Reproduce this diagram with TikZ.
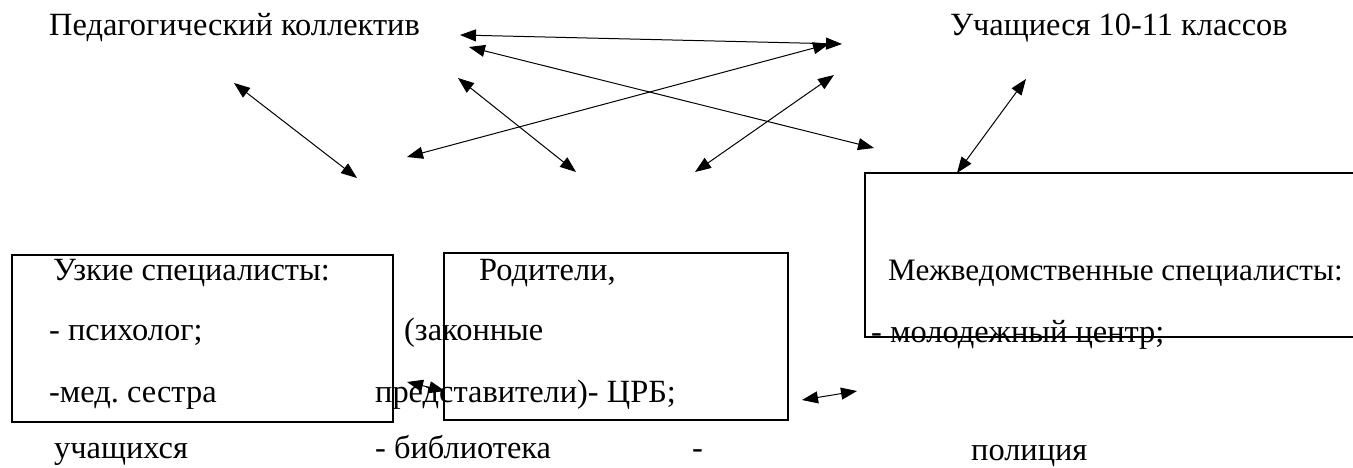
\documentclass[tikz,border=0pt]{standalone}
\usepackage{fontspec}
\setmainfont{Liberation Serif}
\usetikzlibrary{arrows.meta}
\tikzset{
  lbl/.style={anchor=base west, inner sep=0pt, font=\fontsize{32.4}{36}\selectfont},
  conn/.style={{Triangle[length=16pt,width=12pt]}-{Triangle[length=16pt,width=12pt]}, line width=1pt},
  frame/.style={draw, line width=2pt}
}
\begin{document}
\frenchspacing
\begin{tikzpicture}[x=1pt,y=-1pt]
\useasboundingbox (0,0) rectangle (1353,468);
% texts
\node[lbl] (ped) at (49,36) {Педагогический коллектив};
\node[lbl] (uch) at (950,36) {Учащиеся 10-11 классов};
\node[lbl] (t1) at (53,280) {Узкие специалисты:};
\node[lbl] (t2) at (49,340) {- психолог;};
\node[lbl] (t3) at (49,402) {-мед. сестра};
\node[lbl] (t4) at (54,458) {учащихся};
\node[lbl] (r1) at (479,280) {Родители,};
\node[lbl] (r2) at (404,340) {(законные};
\node[lbl] (r3) at (375,402) {представители)- ЦРБ;};
\node[lbl] (r4) at (375,458) {- библиотека};
\node[lbl] (r5) at (692,458) {-};
\node[lbl, font=\fontsize{31.2}{36}\selectfont] (m1) at (888,280) {Межведомственные специалисты:};
\node[lbl] (m2) at (871,342) {- молодежный центр;};
\node[lbl] (m3) at (971,460) {полиция};
% boxes
\node[frame, anchor=north west, minimum width=381pt, minimum height=167pt, inner sep=0pt] (boxL) at (11,254) {};
\node[frame, anchor=north west, minimum width=344pt, minimum height=167pt, inner sep=0pt] (boxM) at (443,252) {};
\coordinate (rtl) at (865,173);
\coordinate (rbl) at (865,337);
\draw[line width=2pt] ([xshift=520pt]rtl) -- (rtl) -- (rbl) -- ([xshift=520pt]rbl);
% arrow end points
\coordinate (a1) at (234,83);  \coordinate (a2) at (357,178);
\coordinate (b1) at (460,35);  \coordinate (b2) at (842,44);
\coordinate (c1) at (469,47);  \coordinate (c2) at (874,148);
\coordinate (d1) at (407,157); \coordinate (d2) at (829,44);
\coordinate (e1) at (458,78);  \coordinate (e2) at (576,172);
\coordinate (f1) at (695,172); \coordinate (f2) at (834,75);
\coordinate (g1) at (1026,79); \coordinate (g2) at (957,173);
\coordinate (h1) at (407,382); \coordinate (h2) at (445,391);
\coordinate (k1) at (802,400); \coordinate (k2) at (857,391);
% connectors
\draw[conn] (a1) -- (a2);
\draw[conn] (b1) -- (b2);
\draw[conn] (c1) -- (c2);
\draw[conn] (d1) -- (d2);
\draw[conn] (e1) -- (e2);
\draw[conn] (f1) -- (f2);
\draw[conn] (g1) -- (g2);
\draw[conn] (h1) -- (h2);
\draw[conn] (k1) -- (k2);
\end{tikzpicture}
\end{document}
